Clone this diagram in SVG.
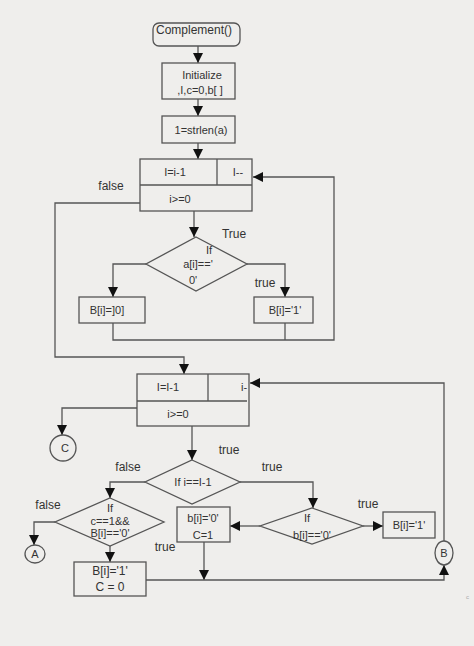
<svg xmlns="http://www.w3.org/2000/svg" width="474" height="646" viewBox="0 0 474 646">
<style>
.bg{fill:#efeeec}
.s{fill:none;stroke:#555;stroke-width:1.3}
.b{fill:#efeeec;stroke:#555;stroke-width:1.3}
.t{font-family:"Liberation Sans",Arial,sans-serif;font-size:11px;fill:#333;text-anchor:middle}
.l{font-family:"Liberation Sans",Arial,sans-serif;font-size:12px;fill:#333;text-anchor:middle}
</style>
<defs>
<marker id="ah" viewBox="0 0 10 10" refX="10" refY="5" markerWidth="10" markerHeight="10" markerUnits="userSpaceOnUse" orient="auto">
<path d="M0,0 L10,5 L0,10 z" fill="#111"/>
</marker>
</defs>
<rect class="bg" x="0" y="0" width="474" height="646"/>

<g id="connectors">
<line class="s" x1="198" y1="46" x2="198" y2="63" marker-end="url(#ah)"/>
<line class="s" x1="198" y1="99" x2="198" y2="116" marker-end="url(#ah)"/>
<line class="s" x1="198" y1="143" x2="198" y2="159" marker-end="url(#ah)"/>
<polyline class="s" points="113,323 113,340 334,340 334,177 253,177" marker-end="url(#ah)"/>
<line class="s" x1="285" y1="323" x2="285" y2="340"/>
<polyline class="s" points="140,203 55,203 55,357 184,357 184,374" marker-end="url(#ah)"/>
<line class="s" x1="194" y1="211" x2="194" y2="237" marker-end="url(#ah)"/>
<polyline class="s" points="146,264 113,264 113,297" marker-end="url(#ah)"/>
<polyline class="s" points="247,264 285,264 285,297" marker-end="url(#ah)"/>
<polyline class="s" points="140,408 62,408 62,435" marker-end="url(#ah)"/>
<line class="s" x1="192" y1="426" x2="192" y2="460" marker-end="url(#ah)"/>
<polyline class="s" points="145,482 110,482 110,498" marker-end="url(#ah)"/>
<polyline class="s" points="55,522 34,522 34,545" marker-end="url(#ah)"/>
<line class="s" x1="110" y1="546" x2="110" y2="562" marker-end="url(#ah)"/>
<polyline class="s" points="240,482 313,482 313,508" marker-end="url(#ah)"/>
<line class="s" x1="260" y1="526" x2="230" y2="526" marker-end="url(#ah)"/>
<line class="s" x1="363" y1="526" x2="383" y2="526" marker-end="url(#ah)"/>
<line class="s" x1="204" y1="542" x2="204" y2="580" marker-end="url(#ah)"/>
<polyline class="s" points="146,580 444,580 444,565" marker-end="url(#ah)"/>
<polyline class="s" points="444,541 444,383 250,383" marker-end="url(#ah)"/>
</g>

<g id="start">
<rect class="b" x="153" y="23" width="87" height="23" rx="6"/>
<text class="l" x="194" y="34">Complement()</text>
</g>
<g id="init">
<rect class="b" x="162" y="63" width="73" height="36"/>
<text class="t" x="202" y="79">Initialize</text>
<text class="t" x="200" y="94">,I,c=0,b[ ]</text>
</g>
<g id="strlen">
<rect class="b" x="162" y="116" width="73" height="27"/>
<text class="t" x="201" y="134">1=strlen(a)</text>
</g>
<g id="loop1">
<rect class="b" x="140" y="159" width="112" height="52"/>
<line class="s" x1="140" y1="185" x2="252" y2="185"/>
<line class="s" x1="217" y1="159" x2="217" y2="185"/>
<text class="t" x="175" y="176">I=i-1</text>
<text class="t" x="238" y="176">I--</text>
<text class="t" x="180" y="203">i&gt;=0</text>
</g>
<g id="dec1">
<polygon class="b" points="196,237 247,264 196,291 146,264"/>
<text class="t" x="209" y="254">If</text>
<text class="t" x="198" y="268">a[i]=='</text>
<text class="t" x="193" y="284">0'</text>
</g>
<g id="b0">
<rect class="b" x="79" y="297" width="66" height="26"/>
<text class="t" x="107" y="314">B[i]=]0]</text>
</g>
<g id="b1">
<rect class="b" x="254" y="297" width="59" height="26"/>
<text class="t" x="285" y="314">B[i]='1'</text>
</g>
<g id="loop2">
<rect class="b" x="137" y="374" width="112" height="52"/>
<line class="s" x1="137" y1="401" x2="247" y2="401"/>
<line class="s" x1="208" y1="374" x2="208" y2="401"/>
<text class="t" x="168" y="391">I=I-1</text>
<text class="t" x="244" y="391">i-</text>
<text class="t" x="178" y="418">i&gt;=0</text>
</g>
<g id="connC">
<circle class="b" cx="63" cy="448" r="13"/>
<text class="t" x="65" y="452">C</text>
</g>
<g id="dec2">
<polygon class="b" points="192,460 240,482 192,504 145,482"/>
<text class="t" x="193" y="486">If i==I-1</text>
</g>
<g id="dec3">
<polygon class="b" points="110,498 164,522 110,546 55,522"/>
<text class="t" x="110" y="512">If</text>
<text class="t" x="110" y="525">c==1&amp;&amp;</text>
<text class="t" x="110" y="537">B[i]=='0'</text>
</g>
<g id="connA">
<ellipse class="b" cx="35" cy="554" rx="10" ry="9"/>
<text class="t" x="35" y="558">A</text>
</g>
<g id="b1c0">
<rect class="b" x="74" y="562" width="72" height="34"/>
<text class="l" x="110" y="575">B[i]='1'</text>
<text class="l" x="110" y="591">C = 0</text>
</g>
<g id="dec4">
<polygon class="b" points="312,508 363,526 312,544 260,526"/>
<text class="t" x="307" y="522">If</text>
<text class="t" x="312" y="539">b[i]=='0'</text>
</g>
<g id="b0c1">
<rect class="b" x="177" y="507" width="53" height="35"/>
<text class="t" x="203" y="522">b[i]='0'</text>
<text class="t" x="203" y="539">C=1</text>
</g>
<g id="b1r">
<rect class="b" x="383" y="512" width="52" height="26"/>
<text class="t" x="409" y="529">B[i]='1'</text>
</g>
<g id="connB">
<ellipse class="b" cx="444" cy="553" rx="9" ry="12"/>
<text class="t" x="444" y="557">B</text>
</g>

<g id="labels">
<text class="l" x="111" y="190">false</text>
<text class="l" x="234" y="238">True</text>
<text class="l" x="265" y="287">true</text>
<text class="l" x="229" y="454">true</text>
<text class="l" x="128" y="471">false</text>
<text class="l" x="272" y="471">true</text>
<text class="l" x="48" y="509">false</text>
<text class="l" x="165" y="551">true</text>
<text class="l" x="368" y="508">true</text>
<text x="466" y="599" style="font-family:'Liberation Sans',sans-serif;font-size:6px;fill:#aaa">c</text>
</g>
</svg>
